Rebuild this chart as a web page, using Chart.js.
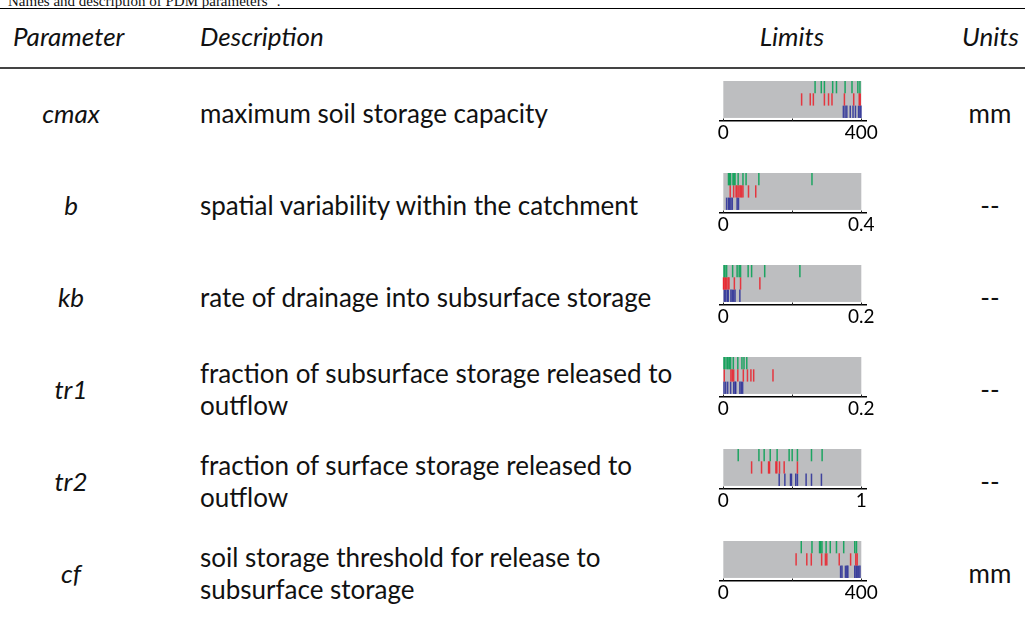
<!DOCTYPE html>
<html>
<head>
<meta charset="UTF-8">
<title>PDM parameters</title>
<script src="https://cdn.jsdelivr.net/npm/chart.js@4/dist/chart.umd.min.js"></script>
<style>
  body { margin:0; width:1025px; height:620px; overflow:hidden; background:#fff;
         font-family: Lato, "Open Sans", sans-serif; color:#111; position:relative; }
  .caption { position:absolute; left:8px; top:-11px; font:15px "Liberation Serif", serif; white-space:nowrap; }
  .rule { position:absolute; left:0; width:1025px; }
  .cell { position:absolute; display:flex; align-items:center; font-size:26px; line-height:32px; }
  .hdr { font-style:italic; }
  .param { font-style:italic; justify-content:center; }
  .mini { position:absolute; left:700px; width:190px; height:68px; }
</style>
</head>
<body>
<div class="caption">Names and description of PDM parameters <sup>a</sup>.</div>
<div class="rule" style="top:8px;border-top:1px solid #000"></div>
<div class="rule" style="top:67px;border-top:2px solid #444"></div>

<div class="cell hdr" style="left:13px;top:6px;height:60px">Parameter</div>
<div class="cell hdr" style="left:200px;top:6px;height:60px">Description</div>
<div class="cell hdr" style="left:742px;width:100px;top:6px;height:60px;justify-content:center">Limits</div>
<div class="cell hdr" style="left:962px;top:6px;height:60px">Units</div>

<div id="rows"></div>

<script>
// table content
const paramNames = ["cmax", "b", "kb", "tr1", "tr2", "cf"];
const descriptions = [
  "maximum soil storage capacity",
  "spatial variability within the catchment",
  "rate of drainage into subsurface storage",
  "fraction of subsurface storage released to<br>outflow",
  "fraction of surface storage released to<br>outflow",
  "soil storage threshold for release to<br>subsurface storage"
];
const units = ["mm", "--", "--", "--", "--", "mm"];
const limitMax = [400, 0.4, 0.2, 0.2, 1, 400];

// parameter values per row of the little strip plots (top green, middle red, bottom blue)
const greenVals = [
  [266, 284, 293, 317, 328, 353, 373, 390, 396],
  [0.015, 0.018, 0.021, 0.028, 0.031, 0.034, 0.043, 0.057, 0.066, 0.103, 0.257],
  [0.001, 0.0024, 0.0048, 0.0135, 0.020, 0.023, 0.025, 0.036, 0.041, 0.060, 0.111],
  [0.001, 0.0024, 0.0053, 0.0067, 0.0087, 0.0106, 0.0145, 0.021, 0.027, 0.030, 0.034],
  [0.108, 0.258, 0.296, 0.340, 0.390, 0.477, 0.499, 0.537, 0.639, 0.716],
  [226, 257, 279, 282, 286, 298, 310, 328, 349, 381, 386]
];
const redVals = [
  [227, 252, 261, 293, 305, 315, 351, 378, 394, 397],
  [0.020, 0.030, 0.037, 0.040, 0.045, 0.049, 0.053, 0.057, 0.073, 0.094],
  [0.0003, 0.001, 0.003, 0.0043, 0.0067, 0.0082, 0.016, 0.025, 0.053],
  [0.0014, 0.011, 0.013, 0.015, 0.021, 0.029, 0.035, 0.040, 0.044, 0.072],
  [0.205, 0.277, 0.328, 0.335, 0.381, 0.388, 0.407, 0.441, 0.537],
  [211, 242, 255, 285, 296, 300, 336, 369, 384, 388]
];
const blueVals = [
  [348, 353, 358, 368, 376, 383, 392, 396, 399],
  [0.0096, 0.015, 0.018, 0.022, 0.026, 0.040, 0.044],
  [0.0014, 0.0034, 0.0058, 0.0072, 0.011, 0.013, 0.015, 0.017, 0.024],
  [0.001, 0.0034, 0.0063, 0.0106, 0.015, 0.017, 0.018, 0.024, 0.026, 0.028],
  [0.405, 0.446, 0.487, 0.494, 0.525, 0.537, 0.600, 0.639, 0.711],
  [340, 344, 354, 358, 361, 381, 385, 388, 392, 396]
];

const stripColours = ["rgba(0,160,80,0.85)", "rgba(235,30,40,0.85)", "rgba(40,45,150,0.85)"];
const textFont = 'Lato, "Open Sans", sans-serif';

// half the height of one strip row, in pixels
const halfRow = c => {
  const y = c.chart.scales.y;
  return y ? Math.abs(y.getPixelForValue(1) - y.getPixelForValue(0)) / 2 : 6.5;
};

// grey band behind the strips, from 0 to the upper limit, plus small tick nubs on the axis
const greyBand = {
  id: 'greyBand',
  beforeDatasetsDraw(chart, args, opts) {
    const x = chart.scales.x, y = chart.scales.y, c = chart.ctx;
    const x0 = x.getPixelForValue(0), x1 = x.getPixelForValue(opts.max);
    const y0 = y.getPixelForValue(3.5), y1 = y.getPixelForValue(0.5);
    c.save();
    c.fillStyle = '#bdbec0';
    c.fillRect(x0, y0, x1 - x0, y1 - y0);
    c.restore();
  },
  afterDraw(chart) {
    const x = chart.scales.x, c = chart.ctx, yb = chart.chartArea.bottom;
    c.save();
    c.strokeStyle = '#222';
    c.lineWidth = 1;
    x.ticks.forEach(t => {
      const px = Math.round(x.getPixelForValue(t.value)) + 0.5;
      c.beginPath();
      c.moveTo(px, yb - 2.5);
      c.lineTo(px, yb);
      c.stroke();
    });
    c.restore();
  }
};

const rowsEl = document.getElementById('rows');

paramNames.forEach((name, i) => {
  const top = 67 + 92 * i;
  rowsEl.insertAdjacentHTML('beforeend',
    `<div class="cell param" style="left:20px;width:102px;top:${top}px;height:92px">${name}</div>` +
    `<div class="cell" style="left:200px;width:500px;top:${top}px;height:92px">${descriptions[i]}</div>` +
    `<div class="cell" style="left:950px;width:80px;top:${top}px;height:92px;justify-content:center">${units[i]}</div>` +
    `<div class="mini" style="top:${75.7 + 92 * i}px"><canvas id="mini${i}"></canvas></div>`);
});

paramNames.forEach((name, i) => {
  const max = limitMax[i];
  const rows = [greenVals[i], redVals[i], blueVals[i]];
  new Chart(document.getElementById('mini' + i), {
    type: 'scatter',
    data: {
      datasets: rows.map((vals, k) => ({
        data: vals.map(v => ({ x: v, y: 3 - k })),
        pointStyle: 'line',
        rotation: 90,
        radius: halfRow,
        hoverRadius: halfRow,
        borderColor: stripColours[k],
        backgroundColor: stripColours[k],
        borderWidth: 1.5
      }))
    },
    options: {
      responsive: true,
      maintainAspectRatio: false,
      animation: false,
      events: [],
      layout: { padding: { top: 5, left: 20, right: 24, bottom: 0 } },
      plugins: { legend: { display: false }, tooltip: { enabled: false }, greyBand: { max: max } },
      scales: {
        x: {
          type: 'linear',
          min: -0.024 * max,
          max: 1.034 * max,
          afterBuildTicks: ax => { ax.ticks = [0, max / 2, max].map(v => ({ value: v })); },
          ticks: {
            autoSkip: false, maxRotation: 0, padding: 2, color: '#000',
            font: { family: textFont, size: 19, lineHeight: 1 },
            callback: v => (v === max / 2 ? '' : String(v))
          },
          grid: { display: false, drawTicks: false, tickLength: 0 },
          border: { color: '#000', width: 1.5 }
        },
        y: { display: false, min: 0.25, max: 3.5 }
      }
    },
    plugins: [greyBand]
  });
});
</script>
</body>
</html>
